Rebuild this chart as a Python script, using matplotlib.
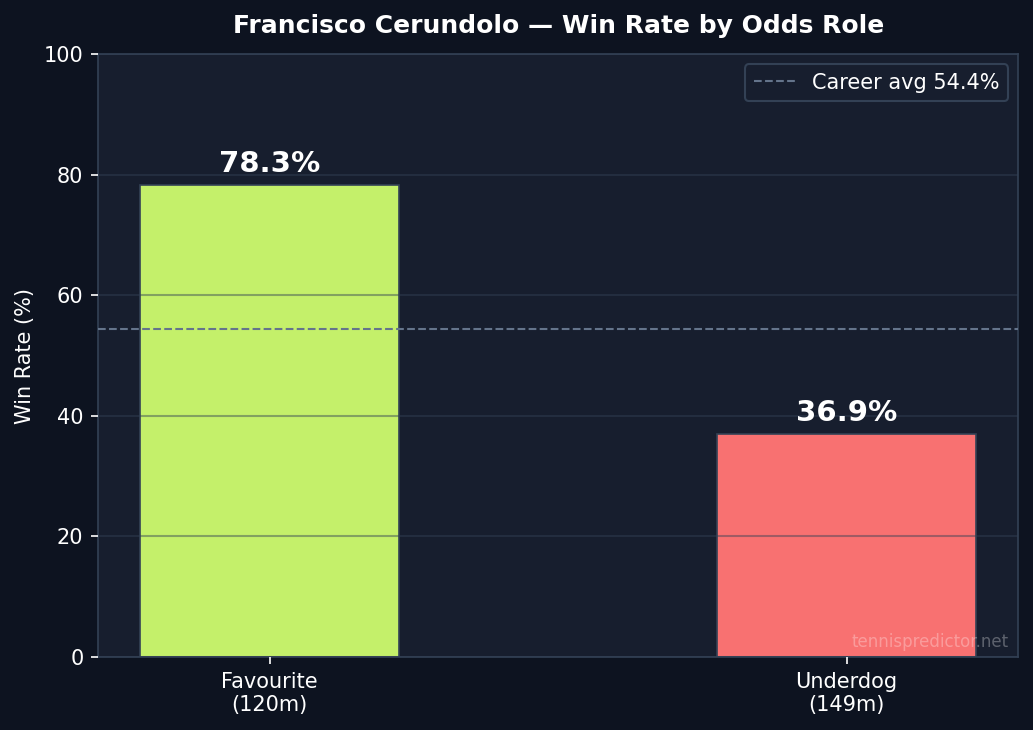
import matplotlib.pyplot as plt

roles = ['Favourite\n(120m)', 'Underdog\n(149m)']
win_rates = [78.3, 36.9]
career_avg = 54.4
colors = ['#c4f06a', '#f87171']

fig = plt.figure(figsize=(6.893, 4.867), dpi=150, facecolor='#0d1320')
ax = fig.add_axes([0.0948, 0.1, 0.89, 0.826])
ax.set_facecolor('#171e2e')

x = list(range(len(roles)))
bars = ax.bar(x, win_rates, width=0.45, color=colors, edgecolor='#334155', linewidth=0.8, zorder=2)
ax.axhline(career_avg, color='#64748b', linestyle='--', linewidth=1,
           label=f'Career avg {career_avg}%', zorder=4)

for xi, v in zip(x, win_rates):
    ax.text(xi, v + 1.2, f'{v}%', ha='center', va='bottom', color='white',
            fontsize=14, fontweight='bold', zorder=5)

ax.set_ylim(0, 100)
ax.set_xticks(x)
ax.set_xticklabels(roles)
ax.set_ylabel('Win Rate (%)', color='white', fontsize=10)
ax.set_title('Francisco Cerundolo — Win Rate by Odds Role', color='white',
             fontsize=12, fontweight='bold', pad=10)
ax.tick_params(colors='white', labelsize=10)
ax.yaxis.grid(True, color='#334155', alpha=0.45, linewidth=1, zorder=3)
ax.set_axisbelow(False)
for s in ax.spines.values():
    s.set_color('#334155')

leg = ax.legend(loc='upper right', facecolor='#171e2e', edgecolor='#334155',
                labelcolor='white', fontsize=10)
leg.get_frame().set_alpha(1)

ax.text(0.99, 0.01, 'tennispredictor.net', transform=ax.transAxes, ha='right',
        va='bottom', color='white', alpha=0.3, fontsize=8, zorder=6)

fig.savefig('out.png', facecolor=fig.get_facecolor())
